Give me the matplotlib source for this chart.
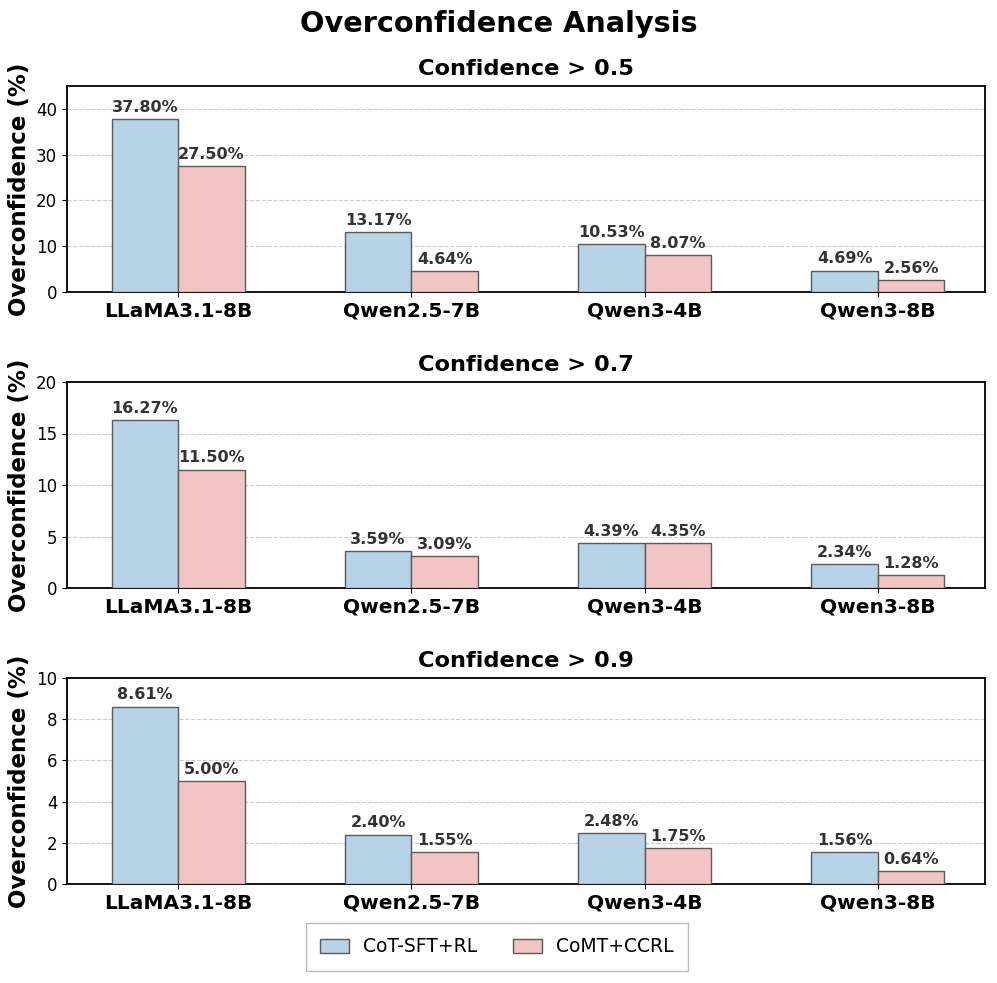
import matplotlib
matplotlib.use("Agg")
import matplotlib.pyplot as plt
import numpy as np

models = ["LLaMA3.1-8B", "Qwen2.5-7B", "Qwen3-4B", "Qwen3-8B"]
thresholds = ["Confidence > 0.5", "Confidence > 0.7", "Confidence > 0.9"]
cot_sft_rl = [
    [37.80, 13.17, 10.53, 4.69],
    [16.27, 3.59, 4.39, 2.34],
    [8.61, 2.40, 2.48, 1.56],
]
comt_ccrl = [
    [27.50, 4.64, 8.07, 2.56],
    [11.50, 3.09, 4.35, 1.28],
    [5.00, 1.55, 1.75, 0.64],
]
ylims = [45, 20, 10]
yticks = [[0, 10, 20, 30, 40], [0, 5, 10, 15, 20], [0, 2, 4, 6, 8, 10]]
series_names = ["CoT-SFT+RL", "CoMT+CCRL"]

fig = plt.figure(figsize=(9.97, 9.83), dpi=100)
x = np.arange(len(models))
w = 0.285
c1 = "#b7d3e8"
c2 = "#f2c4c4"
tops = [86, 382, 678]
h = 206
for i in range(3):
    ax = fig.add_axes([67/997, 1 - (tops[i] + h)/983, 918/997, h/983])
    b1 = ax.bar(x - w/2, cot_sft_rl[i], w, color=c1, edgecolor="#5a5a5a", linewidth=1, label=series_names[0], zorder=3)
    b2 = ax.bar(x + w/2, comt_ccrl[i], w, color=c2, edgecolor="#5a5a5a", linewidth=1, label=series_names[1], zorder=3)
    for bars, vals in ((b1, cot_sft_rl[i]), (b2, comt_ccrl[i])):
        for b, v in zip(bars, vals):
            ax.annotate(f"{v:.2f}%", (b.get_x() + b.get_width()/2, v), xytext=(0, 3),
                        textcoords="offset points", ha="center", va="bottom",
                        fontsize=11.5, fontweight="bold", color="#333333")
    ax.set_xlim(-0.476, 3.459)
    ax.set_ylim(0, ylims[i])
    ax.set_yticks(yticks[i])
    ax.set_xticks(x)
    ax.set_xticklabels(models, fontsize=14.5, fontweight="bold")
    ax.tick_params(axis="y", labelsize=12)
    ax.set_ylabel("Overconfidence (%)", fontsize=16.5, fontweight="bold")
    ax.set_title(thresholds[i], fontsize=16.2, fontweight="bold", pad=8)
    ax.grid(axis="y", linestyle="--", color="#cccccc", linewidth=0.8, zorder=0)
    ax.set_axisbelow(True)
    for s in ax.spines.values():
        s.set_linewidth(1.3)
    if i == 2:
        handles, labels = ax.get_legend_handles_labels()

fig.suptitle("Overconfidence Analysis", fontsize=20.7, fontweight="bold", y=0.99)
fig.legend(handles, labels, loc="center", bbox_to_anchor=(497/997, 1 - 947/983), ncol=2,
           fontsize=13.5, frameon=True, fancybox=False, edgecolor="#aaaaaa",
           borderpad=0.75, columnspacing=1.9, handlelength=1.55, handletextpad=0.75)
fig.savefig("out.png", dpi=100)
